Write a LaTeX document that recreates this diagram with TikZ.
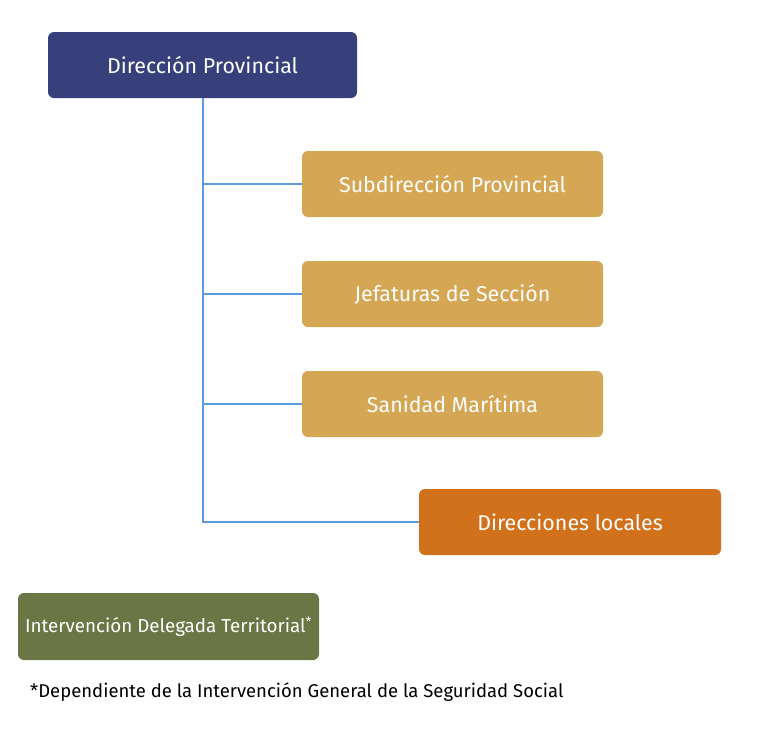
\documentclass[tikz,border=0pt]{standalone}
\usepackage{fontspec}
\setmainfont{Fira Sans}
\definecolor{navy}{HTML}{37407B}
\definecolor{gold}{HTML}{D5A653}
\definecolor{orange}{HTML}{D2711C}
\definecolor{olive}{HTML}{6B7645}
\definecolor{linkblue}{HTML}{5B9BE0}
\begin{document}
\begin{tikzpicture}[x=1pt,y=-1pt,
  box/.style={rounded corners=6pt, text=white, font=\fontsize{21.4}{24}\selectfont, inner sep=0pt, anchor=center},
  link/.style={draw=linkblue, line width=2pt}]
\useasboundingbox (0,0) rectangle (768,740);
\node[box, fill=navy, minimum width=309pt, minimum height=66pt] (dp) at (202.5,65) {Dirección Provincial};
\node[box, fill=gold, minimum width=301pt, minimum height=66pt] (sp) at (452.5,184) {Subdirección Provincial};
\node[box, fill=gold, minimum width=301pt, minimum height=66pt] (js) at (452.5,294) {Jefaturas de Sección};
\node[box, fill=gold, minimum width=301pt, minimum height=66pt] (sm) at (452.5,404) {Sanidad Marítima};
\node[box, fill=orange, minimum width=302pt, minimum height=66pt] (dl) at (570,522) {Direcciones locales};
\node[box, fill=olive, minimum width=301pt, minimum height=67pt, font=\fontsize{18.8}{22}\selectfont] (idt) at (168.5,626.5) {Intervención Delegada Territorial\textsuperscript{*}};
\node[anchor=west, font=\fontsize{18.5}{22}\selectfont, inner sep=0pt] (note) at (30,692) {*Dependiente de la Intervención General de la Seguridad Social};
\coordinate (top) at (203,98);
\draw[link] (dp.south -| top) |- (dl.west);
\draw[link] (sp.west) -- (sp.west -| top);
\draw[link] (js.west) -- (js.west -| top);
\draw[link] (sm.west) -- (sm.west -| top);
\end{tikzpicture}
\end{document}
